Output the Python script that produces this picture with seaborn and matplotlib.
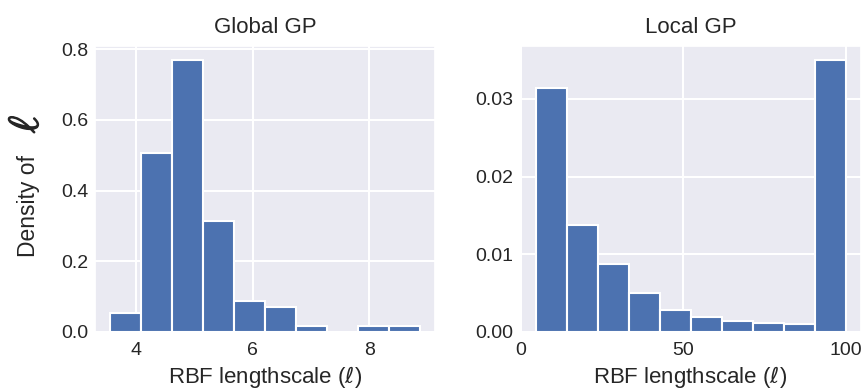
import numpy as np
import pandas as pd
import matplotlib
matplotlib.use("Agg")
import matplotlib.pyplot as plt
import matplotlib.patheffects as pe
import seaborn as sns

# Posterior density of the RBF lengthscale, ten equal-width bins per model
global_range = (3.565, 8.86)
global_density = [0.053, 0.506, 0.770, 0.315, 0.088, 0.070, 0.0175, 0.0, 0.0175, 0.0175]

local_range = (4.5, 100.0)
local_density = [0.03136, 0.01380, 0.00874, 0.00497, 0.00283, 0.00189,
                 0.00147, 0.00112, 0.00103, 0.03505]

titles = ["Global GP", "Local GP"]
global_xticks = [4, 6, 8]
global_yticks = [0.0, 0.2, 0.4, 0.6, 0.8]
local_xticks = [0, 50, 100]
local_yticks = [0.00, 0.01, 0.02, 0.03]

sns.set_theme(style="darkgrid")
plt.rcParams["font.family"] = ["Liberation Sans", "DejaVu Sans"]

W, H = 861, 391
fig = plt.figure(figsize=(W / 100, H / 100), dpi=100)


def axes_at(x0, x1, y0, y1):
    return fig.add_axes([x0 / W, 1 - y1 / H, (x1 - x0) / W, (y1 - y0) / H])


ax_g = axes_at(95, 435, 46, 332)
ax_l = axes_at(520, 861, 46, 332)

panels = [
    (ax_g, global_range, global_density, global_xticks, global_yticks, "{:.1f}"),
    (ax_l, local_range, local_density, local_xticks, local_yticks, "{:.2f}"),
]

for ax, (lo, hi), dens, xt, yt, fmt in panels:
    nbins = len(dens)
    step = (hi - lo) / nbins
    centers = lo + step * (np.arange(nbins) + 0.5)
    df = pd.DataFrame({"x": centers, "w": dens})
    sns.histplot(data=df, x="x", weights="w", bins=nbins, binrange=(lo, hi), ax=ax,
                 color="#4C72B0", alpha=1, edgecolor="white", linewidth=1.5)
    ax.set_xticks(xt)
    ax.set_yticks(yt)
    ax.set_yticklabels([fmt.format(v) for v in yt])
    ax.set_ylabel("")
    ax.set_xlabel("RBF lengthscale ($\\ell$)", fontsize=16, labelpad=4)
    ax.tick_params(axis="both", length=0, labelsize=14, colors=".15")
    ax.tick_params(axis="y", pad=5)
    ax.tick_params(axis="x", pad=7)
    ax.grid(color="white", linewidth=1.5)

ax_g.set_title(titles[0], fontsize=16, pad=9)
ax_l.set_title(titles[1], fontsize=16, pad=9)

# y label with an oversized ell
fig.text(29 / W, 1 - 206 / H, "Density of", rotation=90, ha="center", va="center",
         fontsize=16.5, color=".15")
fig.text(27 / W, 1 - 124 / H, "$\\ell$", rotation=90, ha="center", va="center",
         fontsize=30, color=".15", math_fontfamily="cm",
         path_effects=[pe.withStroke(linewidth=1.0, foreground=".15")])

fig.savefig("out.png", dpi=100)
